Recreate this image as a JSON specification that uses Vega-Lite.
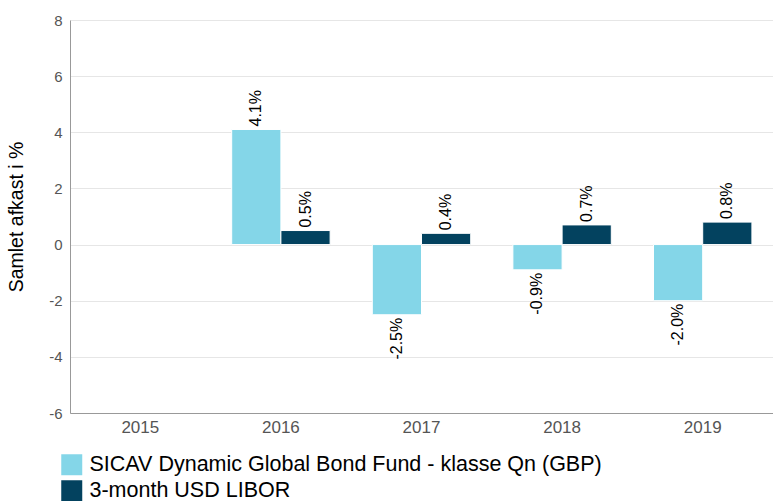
{
  "$schema": "https://vega.github.io/schema/vega-lite/v6.json",
  "width": 703,
  "height": 393,
  "autosize": {"type": "none"},
  "padding": {"left": 70, "top": 20, "right": 0, "bottom": 88},
  "background": "white",
  "config": {"font": "Liberation Sans", "view": {"stroke": null}},
  "data": {"values": [
    {"year": "2016", "series": "SICAV Dynamic Global Bond Fund - klasse Qn (GBP)", "value": 4.1, "label": "4.1%"},
    {"year": "2016", "series": "3-month USD LIBOR", "value": 0.5, "label": "0.5%"},
    {"year": "2017", "series": "SICAV Dynamic Global Bond Fund - klasse Qn (GBP)", "value": -2.5, "label": "-2.5%"},
    {"year": "2017", "series": "3-month USD LIBOR", "value": 0.4, "label": "0.4%"},
    {"year": "2018", "series": "SICAV Dynamic Global Bond Fund - klasse Qn (GBP)", "value": -0.9, "label": "-0.9%"},
    {"year": "2018", "series": "3-month USD LIBOR", "value": 0.7, "label": "0.7%"},
    {"year": "2019", "series": "SICAV Dynamic Global Bond Fund - klasse Qn (GBP)", "value": -2.0, "label": "-2.0%"},
    {"year": "2019", "series": "3-month USD LIBOR", "value": 0.8, "label": "0.8%"}
  ]},
  "encoding": {
    "x": {
      "field": "year", "type": "nominal",
      "scale": {"domain": ["2015", "2016", "2017", "2018", "2019"], "paddingInner": 0.3, "paddingOuter": 0.15},
      "axis": {"title": null, "labelAngle": 0, "labelFontSize": 17, "labelColor": "#555555", "labelPadding": 6, "ticks": false, "domainColor": "#999999", "grid": false}
    },
    "xOffset": {"field": "series", "type": "nominal", "scale": {"domain": ["SICAV Dynamic Global Bond Fund - klasse Qn (GBP)", "3-month USD LIBOR"]}},
    "y": {
      "field": "value", "type": "quantitative",
      "scale": {"domain": [-6, 8], "nice": false, "zero": false},
      "axis": {"title": "Samlet afkast i %", "titleFontSize": 19.5, "titleFontWeight": "normal", "titleColor": "black", "titlePadding": 22, "values": [-6, -4, -2, 0, 2, 4, 6, 8], "labelExpr": "replace(datum.label, '−', '-')", "labelFontSize": 15, "labelColor": "#555555", "labelPadding": 8, "ticks": false, "domainColor": "#999999", "gridColor": "#e6e6e6"}
    }
  },
  "layer": [
    {
      "mark": {"type": "bar", "stroke": "white", "strokeWidth": 1},
      "encoding": {
        "color": {
          "field": "series", "type": "nominal",
          "scale": {"domain": ["SICAV Dynamic Global Bond Fund - klasse Qn (GBP)", "3-month USD LIBOR"], "range": ["#84d6e8", "#03425f"]},
          "legend": {"title": null, "orient": "none", "legendX": -9, "legendY": 434, "direction": "vertical", "symbolType": "square", "symbolSize": 441, "symbolStrokeWidth": 0, "labelFontSize": 21.5, "labelColor": "black", "labelOffset": 7, "rowPadding": 3, "labelLimit": 760}
        }
      }
    },
    {
      "transform": [{"filter": "datum.value >= 0"}],
      "mark": {"type": "text", "angle": 270, "align": "left", "baseline": "middle", "dx": 3, "fontSize": 16, "color": "black"},
      "encoding": {"text": {"field": "label"}}
    },
    {
      "transform": [{"filter": "datum.value < 0"}],
      "mark": {"type": "text", "angle": 270, "align": "right", "baseline": "middle", "dx": -3, "fontSize": 16, "color": "black"},
      "encoding": {"text": {"field": "label"}}
    }
  ]
}
